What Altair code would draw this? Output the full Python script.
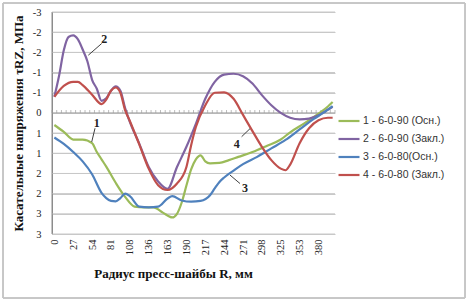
import altair as alt
import pandas as pd

# ---- data ----
X_LABELS = ["0", "27", "54", "81", "108", "136", "163", "190", "217", "244",
            "271", "298", "325", "353", "380"]
Y_TICKS = [-2.5, -2, -1.5, -1, -0.5, 0, 0.5, 1, 1.5, 2, 2.5, 3]
N_CATEGORIES = 60

NAMES = ["1 - 6-0-90 (Осн.)", "2 - 6-0-90 (Закл.)", "3 - 6-0-80(Осн.)", "4 - 6-0-80 (Закл.)"]
COLORS = ["#9BBB59", "#8064A2", "#4F81BD", "#C0504D"]

s1_idx = [0, 2, 4, 6, 8, 9, 10, 11, 13, 15, 17, 19, 21, 23, 25, 26, 27, 28, 29, 30, 31, 32,
          33, 35, 37, 39, 42, 45, 48, 50, 53, 56, 58, 59]
s1_val = [0.30, 0.47, 0.66, 0.66, 0.75, 0.97, 1.15, 1.33, 1.73, 2.08, 2.32, 2.34, 2.34, 2.47,
          2.59, 2.50, 2.22, 1.80, 1.40, 1.15, 1.05, 1.20, 1.25, 1.24, 1.17, 1.09, 0.97, 0.82,
          0.66, 0.48, 0.26, 0.02, -0.16, -0.27]

s2_idx = [0, 1, 2, 3, 4, 5, 6, 7, 8, 9, 10, 11, 12, 13, 14, 15, 16, 18, 20, 22, 24, 26, 28,
          30, 32, 34, 36, 38, 40, 42, 44, 46, 48, 50, 52, 54, 56, 58, 59]
s2_val = [-0.40, -0.92, -1.55, -1.88, -1.92, -1.82, -1.57, -1.28, -0.82, -0.60, -0.30, -0.36,
          -0.55, -0.66, -0.55, -0.12, 0.22, 0.76, 1.34, 1.70, 1.88, 1.34, 0.84, 0.27, -0.35,
          -0.77, -0.95, -0.97, -0.91, -0.73, -0.44, -0.19, 0.00, 0.12, 0.16, 0.14, 0.06,
          -0.08, -0.15]

s3_idx = [0, 2, 4, 6, 8, 10, 11, 12, 13, 14, 15, 16, 18, 20, 22, 24, 25, 27, 29, 31, 33, 34,
          35, 36, 38, 40, 43, 46, 49, 52, 55, 57, 59]
s3_val = [0.61, 0.77, 0.97, 1.20, 1.52, 1.98, 2.11, 2.18, 2.19, 2.11, 2.00, 2.06, 2.32, 2.34,
          2.32, 2.12, 2.06, 2.17, 2.20, 2.18, 2.04, 1.87, 1.71, 1.60, 1.43, 1.27, 1.09, 0.88,
          0.67, 0.41, 0.15, 0.00, -0.17]

s4_idx = [0, 2, 4, 5, 6, 8, 10, 11, 12, 13, 14, 15, 16, 18, 20, 22, 24, 26, 28, 29, 30, 32,
          34, 36, 38, 40, 42, 44, 46, 48, 49, 50, 52, 54, 56, 58, 59]
s4_val = [-0.40, -0.67, -0.77, -0.77, -0.69, -0.45, -0.22, -0.33, -0.55, -0.63, -0.50, -0.07,
          0.20, 0.78, 1.38, 1.79, 1.91, 1.75, 1.34, 0.80, 0.35, -0.19, -0.50, -0.51, -0.35,
          0.05, 0.45, 0.84, 1.17, 1.38, 1.42, 1.28, 0.75, 0.38, 0.18, 0.12, 0.12]

# annotation labels (category index, value) and their leader lines
ANN_TEXT = ["1", "2", "4", "3"]
ANN_I = [8.98, 10.6, 38.66, 40.42]
ANN_V = [0.26, -1.82, 0.76, 1.87]
LEAD_I1 = [8.62, 10.04, 39.7, 39.36]
LEAD_V1 = [0.38, -1.72, 0.59, 1.75]
LEAD_I2 = [7.92, 7.2, 41.48, 37.24]
LEAD_V2 = [0.72, -1.43, 0.39, 1.54]

# ---- tables ----
rows = []
for name, idx, vals in zip(NAMES, [s1_idx, s2_idx, s3_idx, s4_idx],
                           [s1_val, s2_val, s3_val, s4_val]):
    for i, v in zip(idx, vals):
        rows.append({"series": name, "i": i, "v": v})
df = pd.DataFrame(rows)

X_LO, X_HI = -0.5, N_CATEGORIES - 0.5
ann = pd.DataFrame({"t": ANN_TEXT, "i": ANN_I, "v": ANN_V})
lead = pd.DataFrame({"i": LEAD_I1, "v": LEAD_V1, "i2": LEAD_I2, "v2": LEAD_V2})
cat_ticks = pd.DataFrame({"i": [k - 0.5 for k in range(N_CATEGORIES + 1)], "v": 0.0})

# horizontal gridlines as two-point paths (one per y tick), the zero line and the y-axis line
grid_rows = []
for t in Y_TICKS:
    kind = "zero" if t == 0 else "grid"
    grid_rows.append({"g": f"h{t}", "kind": kind, "i": X_LO, "v": t})
    grid_rows.append({"g": f"h{t}", "kind": kind, "i": X_HI, "v": t})
grid_rows.append({"g": "yaxis", "kind": "axis", "i": X_LO, "v": Y_TICKS[0]})
grid_rows.append({"g": "yaxis", "kind": "axis", "i": X_LO, "v": Y_TICKS[-1]})
grid_df = pd.DataFrame(grid_rows)

x_scale = alt.Scale(domain=[X_LO, X_HI], nice=False, zero=False)
y_scale = alt.Scale(domain=[Y_TICKS[0], Y_TICKS[-1]], reverse=True, nice=False, zero=False)

label_expr = "[" + ",".join(f"'{l}'" for l in X_LABELS) + "][round(datum.value / 4)]"

SERIF = "Liberation Serif"

x_axis = alt.Axis(
    values=list(range(0, 4 * len(X_LABELS), 4)), labelExpr=label_expr, labelAngle=270,
    labelFont=SERIF, labelFontSize=10.5, labelColor="#222", labelPadding=5,
    labelOverlap=False, labelFlush=False,
    domain=False, ticks=False, grid=False,
    title="Радиус пресс-шайбы R, мм", titleFont=SERIF, titleFontSize=13,
    titleFontWeight="bold", titleColor="#111", titleX=121, titleY=39,
    titleAlign="center", titleBaseline="middle",
)
y_axis = alt.Axis(
    values=Y_TICKS,
    labelExpr="(datum.value < 0 ? '-' : '') + round(abs(datum.value))",
    labelFont=SERIF, labelFontSize=10.5, labelColor="#222", labelPadding=11,
    labelOverlap=False, labelFlush=False,
    grid=True, gridColor="#C8C8C8", gridWidth=1,
    domain=True, domainColor="#8C8C8C", ticks=False,
    title="Касательные напряжения τRZ, МПа", titleFont=SERIF, titleFontSize=13,
    titleFontWeight="bold", titleColor="#111", titleAngle=270, titleX=-34, titleY=111,
    titleAlign="center", titleBaseline="middle",
)

X = alt.X("i:Q", scale=x_scale, axis=x_axis)
Y = alt.Y("v:Q", scale=y_scale, axis=y_axis)

grid_paths = alt.Chart(grid_df).mark_line(strokeWidth=1, interpolate="linear").encode(
    x=X, y=Y, detail="g:N",
    stroke=alt.Stroke(
        "kind:N",
        scale=alt.Scale(domain=["grid", "zero", "axis"],
                        range=["#C8C8C8", "#A0A0A0", "#8C8C8C"]),
        legend=None,
    ),
)

lines = alt.Chart(df).mark_line(strokeWidth=2.2, interpolate="monotone").encode(
    x=X, y=Y,
    color=alt.Color(
        "series:N",
        scale=alt.Scale(domain=NAMES, range=COLORS),
        legend=alt.Legend(
            title=None, orient="none", legendX=285, legendY=97,
            symbolType="stroke", symbolSize=440, symbolStrokeWidth=2.2,
            labelFont="Liberation Sans", labelFontSize=10.5, labelColor="#333",
            rowPadding=0, padding=0, labelOffset=2,
        ),
    ),
)

zero_ticks = alt.Chart(cat_ticks).mark_tick(
    orient="vertical", size=3, thickness=1, color="#A0A0A0", yOffset=-1.5
).encode(x=X, y=Y)

leaders = alt.Chart(lead).mark_rule(color="#404040", strokeWidth=1).encode(
    x=X, x2="i2:Q", y=Y, y2="v2:Q",
)
labels = alt.Chart(ann).mark_text(
    font=SERIF, fontSize=12, fontWeight="bold", color="#222", baseline="middle"
).encode(x=X, y=Y, text="t:N")

frame = alt.Chart(ann).mark_rect(fill="transparent", stroke="#C4C4C4", strokeWidth=1).encode(
    x=alt.value(-49), x2=alt.value(413), y=alt.value(-9), y2=alt.value(286)
)

chart = alt.layer(grid_paths, zero_ticks, lines, leaders, labels, frame).resolve_scale(
    color="independent", stroke="independent"
).properties(
    width=283, height=222,
    autosize=alt.AutoSizeParams(type="none"),
    padding={"left": 52, "top": 12, "right": 134, "bottom": 69},
    background="white",
).configure_view(stroke=None)

chart.save("out.html", embed_options={"renderer": "svg", "actions": False})
